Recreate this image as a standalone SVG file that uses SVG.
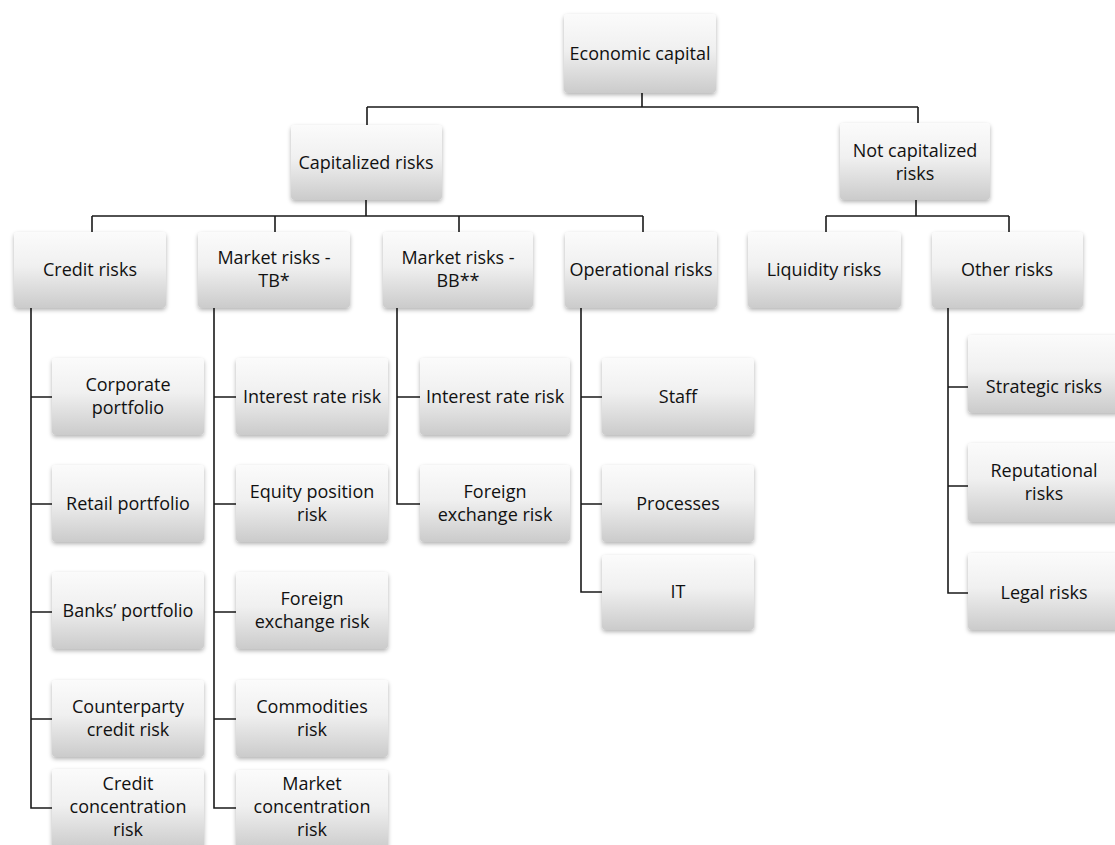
<svg xmlns="http://www.w3.org/2000/svg" width="1115" height="845" viewBox="0 0 1115 845">
<defs>
<linearGradient id="g" x1="0" y1="0" x2="0" y2="1">
<stop offset="0" stop-color="#fbfbfb"/>
<stop offset="0.45" stop-color="#f0f0f0"/>
<stop offset="1" stop-color="#cbcbcb"/>
</linearGradient>
<filter id="sh" x="-10%" y="-10%" width="120%" height="130%">
<feDropShadow dx="0" dy="2" stdDeviation="2" flood-color="#000" flood-opacity="0.3"/>
</filter>
</defs>
<style>
.box{fill:url(#g);filter:url(#sh)}
text{font-family:"Open Sans","Noto Sans",sans-serif;font-size:18px;fill:#111;text-anchor:middle}
.c{fill:none;stroke:#1a1a1a;stroke-width:1.6}
</style>
<rect width="1115" height="845" fill="#fff"/>
<g id="connectors" class="c">
<path d="M642,93V107M367,107H918M367,107V125M918,107V123"/>
<path d="M366,200V216M92,216H643M92,216V232M275,216V232M459,216V232M643,216V232"/>
<path d="M916,200V216M826,216H1009M826,216V232M1009,216V232"/>
<path d="M31,308V808H52M31,397H52M31,504H52M31,612H52M31,719H52"/>
<path d="M214,308V808H236M214,397H236M214,504H236M214,612H236M214,719H236"/>
<path d="M397,308V504H420M397,397H420"/>
<path d="M581,308V592H602M581,397H602M581,504H602"/>
<path d="M948,308V593H968M948,387H968M948,486H968"/>
</g>
<g id="economic-capital"><rect class="box" x="564" y="14" width="152" height="79" rx="4"/><text x="640" y="60">Economic capital</text></g>
<g id="capitalized-risks"><rect class="box" x="291" y="125" width="151" height="75" rx="4"/><text x="366" y="169">Capitalized risks</text></g>
<g id="not-capitalized-risks"><rect class="box" x="840" y="123" width="150" height="77" rx="4"/><text x="915" y="157">Not capitalized</text><text x="915" y="180">risks</text></g>
<g id="credit-risks"><rect class="box" x="14" y="232" width="152" height="76" rx="4"/><text x="90" y="276">Credit risks</text></g>
<g id="market-risks-tb"><rect class="box" x="198" y="232" width="152" height="76" rx="4"/><text x="274" y="264">Market risks -</text><text x="274" y="287">TB*</text></g>
<g id="market-risks-bb"><rect class="box" x="383" y="232" width="150" height="76" rx="4"/><text x="458" y="264">Market risks -</text><text x="458" y="287">BB**</text></g>
<g id="operational-risks"><rect class="box" x="565" y="232" width="152" height="76" rx="4"/><text x="641" y="276">Operational risks</text></g>
<g id="liquidity-risks"><rect class="box" x="748" y="232" width="153" height="76" rx="4"/><text x="824" y="276">Liquidity risks</text></g>
<g id="other-risks"><rect class="box" x="932" y="232" width="151" height="76" rx="4"/><text x="1007" y="276">Other risks</text></g>
<g id="corporate-portfolio"><rect class="box" x="52" y="358" width="152" height="77" rx="4"/><text x="128" y="391">Corporate</text><text x="128" y="414">portfolio</text></g>
<g id="retail-portfolio"><rect class="box" x="52" y="465" width="152" height="77" rx="4"/><text x="128" y="510">Retail portfolio</text></g>
<g id="banks-portfolio"><rect class="box" x="52" y="572" width="152" height="77" rx="4"/><text x="128" y="617">Banks’ portfolio</text></g>
<g id="counterparty-credit-risk"><rect class="box" x="52" y="680" width="152" height="77" rx="4"/><text x="128" y="713">Counterparty</text><text x="128" y="736">credit risk</text></g>
<g id="credit-concentration-risk"><rect class="box" x="52" y="769" width="152" height="80" rx="4"/><text x="128" y="790">Credit</text><text x="128" y="813">concentration</text><text x="128" y="836">risk</text></g>
<g id="tb-interest-rate-risk"><rect class="box" x="236" y="358" width="152" height="77" rx="4"/><text x="312" y="403">Interest rate risk</text></g>
<g id="equity-position-risk"><rect class="box" x="236" y="465" width="152" height="77" rx="4"/><text x="312" y="498">Equity position</text><text x="312" y="521">risk</text></g>
<g id="tb-foreign-exchange-risk"><rect class="box" x="236" y="572" width="152" height="77" rx="4"/><text x="312" y="605">Foreign</text><text x="312" y="628">exchange risk</text></g>
<g id="commodities-risk"><rect class="box" x="236" y="680" width="152" height="77" rx="4"/><text x="312" y="713">Commodities</text><text x="312" y="736">risk</text></g>
<g id="market-concentration-risk"><rect class="box" x="236" y="770" width="152" height="80" rx="4"/><text x="312" y="790">Market</text><text x="312" y="813">concentration</text><text x="312" y="836">risk</text></g>
<g id="bb-interest-rate-risk"><rect class="box" x="420" y="358" width="150" height="77" rx="4"/><text x="495" y="403">Interest rate risk</text></g>
<g id="bb-foreign-exchange-risk"><rect class="box" x="420" y="465" width="150" height="77" rx="4"/><text x="495" y="498">Foreign</text><text x="495" y="521">exchange risk</text></g>
<g id="staff"><rect class="box" x="602" y="358" width="152" height="77" rx="4"/><text x="678" y="403">Staff</text></g>
<g id="processes"><rect class="box" x="602" y="465" width="152" height="77" rx="4"/><text x="678" y="510">Processes</text></g>
<g id="it"><rect class="box" x="602" y="555" width="152" height="75" rx="4"/><text x="678" y="598">IT</text></g>
<g id="strategic-risks"><rect class="box" x="968" y="335" width="152" height="78" rx="4"/><text x="1044" y="393">Strategic risks</text></g>
<g id="reputational-risks"><rect class="box" x="968" y="443" width="152" height="79" rx="4"/><text x="1044" y="477">Reputational</text><text x="1044" y="500">risks</text></g>
<g id="legal-risks"><rect class="box" x="968" y="553" width="152" height="77" rx="4"/><text x="1044" y="599">Legal risks</text></g>
</svg>
